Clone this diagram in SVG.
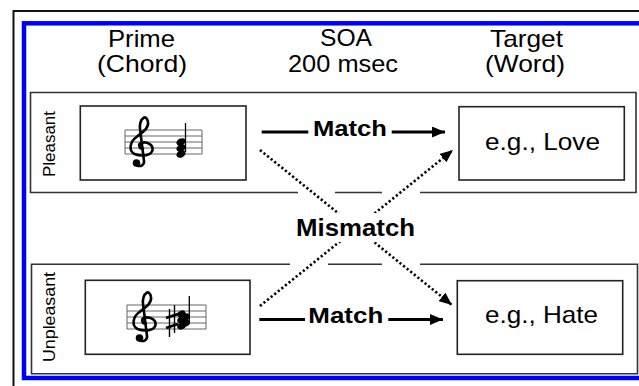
<svg xmlns="http://www.w3.org/2000/svg" width="639" height="386" viewBox="0 0 639 386">
<defs>
<style>
.txt{font-family:"Liberation Sans",Arial,Helvetica,sans-serif;fill:#000;text-anchor:middle}
.hdr{font-size:24px}
.bold{font-weight:bold}
.panel{fill:none;stroke:#333;stroke-width:1.6}
.box{fill:#fff;stroke:#222;stroke-width:1.6}
.staff{stroke:#666;stroke-width:1;fill:none}
.clef{fill:none;stroke:#000;stroke-width:2.6;stroke-linecap:round;stroke-linejoin:round}
.solid{fill:none;stroke:#000;stroke-width:2.8}
.dotted{fill:none;stroke:#000;stroke-width:2.6;stroke-dasharray:2.2 2.4}
</style>
<marker id="ah" markerUnits="userSpaceOnUse" markerWidth="14" markerHeight="11" refX="13" refY="5.5" orient="auto">
<path d="M0,0 L13,5.5 L0,11 z" fill="#000"/>
</marker>
<g id="clef">
<path class="clef" d="M2,18.5 C-2,19 -3,14 0,13 C6,11 12.5,15 11.5,20 C10.5,25.5 1,27 -6.5,24 C-12.5,21 -11.5,12 -4.5,7 C1,2.5 8,-1.5 7,-8 C6.5,-12 4,-13.5 2.5,-12 C-0.5,-10.5 -1.5,-5 -1,-1 L3,31 C3.5,35 -0.5,37 -4,35.5"/>
<circle cx="-4.5" cy="33" r="3.8" fill="#000"/>
</g>
</defs>
<rect width="639" height="386" fill="#fff"/>
<g id="frames">
<rect x="13.5" y="11" width="700" height="500" fill="none" stroke="#111" stroke-width="2"/>
<rect x="24" y="23.3" width="640" height="354.7" fill="none" stroke="#0000ff" stroke-width="4.5"/>
</g>
<g id="headers" class="txt hdr">
<text x="141.5" y="47" textLength="67" lengthAdjust="spacingAndGlyphs">Prime</text>
<text x="142" y="72" textLength="90" lengthAdjust="spacingAndGlyphs">(Chord)</text>
<text x="346" y="46" textLength="52" lengthAdjust="spacingAndGlyphs">SOA</text>
<text x="343" y="71.5" textLength="110" lengthAdjust="spacingAndGlyphs">200 msec</text>
<text x="526.5" y="47" textLength="73" lengthAdjust="spacingAndGlyphs">Target</text>
<text x="525" y="72" textLength="80" lengthAdjust="spacingAndGlyphs">(Word)</text>
</g>
<g id="panel-pleasant">
<path class="panel" d="M298,192.5 H30.5 V92.5 H636 V192.5 H420 M382,192.5 H335"/>
<text class="txt" font-size="17" transform="translate(54.5,144) rotate(-90)" textLength="66" lengthAdjust="spacingAndGlyphs">Pleasant</text>
</g>
<g id="panel-unpleasant">
<path class="panel" d="M290,264.3 H31.5 V373.7 H637.5 V264.3 H420 M382,264.3 H328"/>
<text class="txt" font-size="17" transform="translate(54.5,317) rotate(-90)" textLength="90" lengthAdjust="spacingAndGlyphs">Unpleasant</text>
</g>
<g id="prime-pleasant">
<rect class="box" x="80.3" y="106" width="165.7" height="74"/>
<path class="staff" d="M125,130H202M125,136H202M125,142H202M125,148H202M125,154H202M125,130V154M202,130V154"/>
<use href="#clef" transform="translate(141,130)"/>
<g fill="#000">
<ellipse cx="181" cy="142" rx="4.8" ry="3.5" transform="rotate(-25 181 142)"/>
<ellipse cx="181" cy="148" rx="4.8" ry="3.5" transform="rotate(-25 181 148)"/>
<ellipse cx="181" cy="154" rx="4.8" ry="3.5" transform="rotate(-25 181 154)"/>
</g>
<path d="M185.5,123V152" stroke="#000" stroke-width="1.3"/>
</g>
<g id="prime-unpleasant">
<rect class="box" x="85.3" y="280.3" width="164.7" height="74"/>
<path class="staff" d="M127,305H206M127,311H206M127,317H206M127,323H206M127,329H206M127,305V329M206,305V329"/>
<use href="#clef" transform="translate(144,305)"/>
<g fill="#000">
<path d="M169.5,309V337M174.5,305V333" stroke="#000" stroke-width="1.4"/>
<path d="M166,318L178,314M166,328L178,324" stroke="#000" stroke-width="2.8"/>
<ellipse cx="181.5" cy="314" rx="4.4" ry="3.4" transform="rotate(-25 181.5 314)"/>
<ellipse cx="181.5" cy="320" rx="4.4" ry="3.4" transform="rotate(-25 181.5 320)"/>
<ellipse cx="181.5" cy="326" rx="4.4" ry="3.4" transform="rotate(-25 181.5 326)"/>
<ellipse cx="186" cy="317" rx="4" ry="3.4" transform="rotate(-25 186 317)"/>
<ellipse cx="186" cy="323" rx="4" ry="3.4" transform="rotate(-25 186 323)"/>
</g>
<path d="M189.3,296V322" stroke="#000" stroke-width="1.3"/>
</g>
<g id="target-love">
<rect class="box" x="459" y="106.7" width="165.3" height="73.3"/>
<text class="txt hdr" x="542.5" y="150" textLength="115" lengthAdjust="spacingAndGlyphs">e.g., Love</text>
</g>
<g id="target-hate">
<rect class="box" x="457.3" y="280.7" width="165.4" height="73.6"/>
<text class="txt hdr" x="541.5" y="323" textLength="113" lengthAdjust="spacingAndGlyphs">e.g., Hate</text>
</g>
<g id="connectors">
<path class="solid" d="M261.7,132H308.3"/>
<path class="solid" d="M391.7,132H445" marker-end="url(#ah)"/>
<path class="solid" d="M259.3,319.5H305"/>
<path class="solid" d="M388.3,319.5H443" marker-end="url(#ah)"/>
<path class="dotted" d="M260,150L452,305" marker-end="url(#ah)"/>
<path class="dotted" d="M260,306L453,150" marker-end="url(#ah)"/>
<text class="txt bold" font-size="22" x="350" y="135.5" textLength="74" lengthAdjust="spacingAndGlyphs">Match</text>
<text class="txt bold" font-size="22" x="345.8" y="322.5" textLength="75" lengthAdjust="spacingAndGlyphs">Match</text>
<rect x="298" y="213" width="116" height="29" fill="#fff"/>
<text class="txt bold" font-size="24" x="355.5" y="235.5" textLength="119" lengthAdjust="spacingAndGlyphs">Mismatch</text>
</g>
</svg>
